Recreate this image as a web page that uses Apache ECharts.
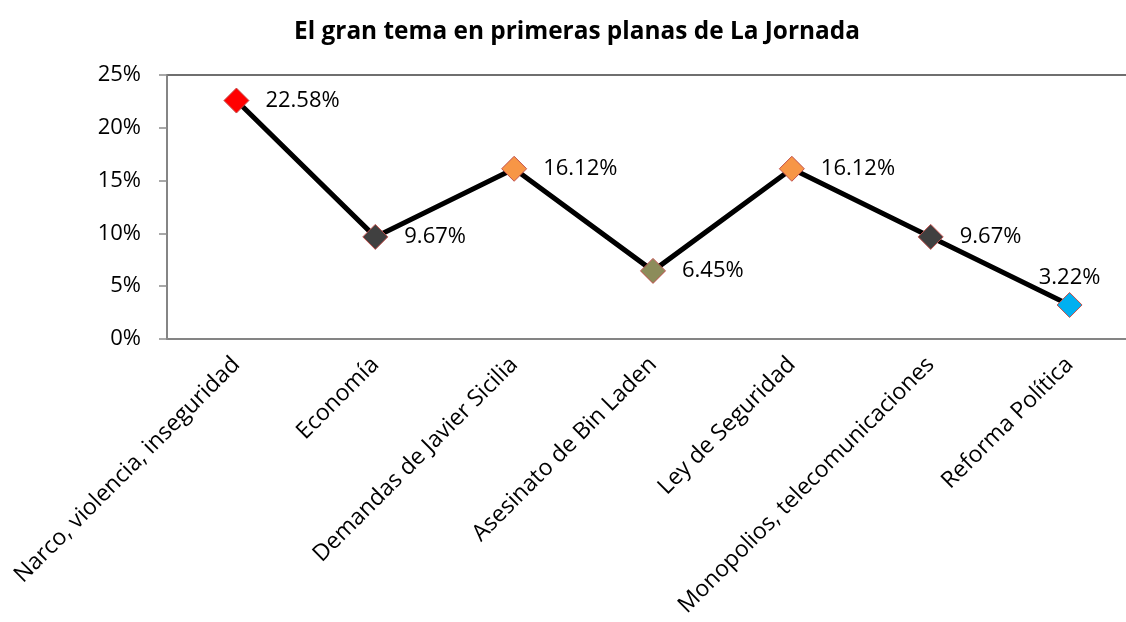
<!DOCTYPE html>
<html><head><meta charset="utf-8">
<script src="https://cdn.jsdelivr.net/npm/echarts@6/dist/echarts.min.js"></script>
<style>html,body{margin:0;padding:0;background:#fff}#c{width:1126px;height:622px}</style>
</head><body><div id="c"></div>
<script>
const categories = ["Narco, violencia, inseguridad","Economía","Demandas de Javier Sicilia","Asesinato de Bin Laden","Ley de Seguridad","Monopolios, telecomunicaciones","Reforma Política"];
const values = [22.58, 9.67, 16.12, 6.45, 16.12, 9.67, 3.22];
const markerColors = ["#FF0000","#404040","#F79646","#8C8C5A","#F79646","#404040","#00B0F0"];
const labelPositions = ["right","right","right","right","right","right","top"];
const yTicks = [0,5,10,15,20,25];
const FONT = "Open Sans";

const chart = echarts.init(document.getElementById('c'));
chart.setOption({
  animation:false,
  title:{text:"El gran tema en primeras planas de La Jornada",left:572,top:15,textAlign:'center',
    textStyle:{fontFamily:FONT,fontSize:24.4,fontWeight:'bold',color:'#000'}},
  grid:{left:167,top:75,width:972,bottom:283,show:true,borderColor:'#404040',borderWidth:1.5,
    containLabel:false,outerBoundsMode:'none'},
  xAxis:{type:'category',data:categories,boundaryGap:true,
    axisLine:{lineStyle:{color:'#8c8c8c',width:1.5}},
    axisTick:{alignWithLabel:true,length:6,lineStyle:{color:'#8c8c8c',width:1.5}},
    axisLabel:{rotate:45,interval:0,fontFamily:FONT,fontSize:23,color:'#000',margin:22}},
  yAxis:{type:'value',min:0,max:25,interval:5,
    axisLine:{show:true,lineStyle:{color:'#8c8c8c',width:1.5}},
    axisTick:{show:true,inside:false,length:8,lineStyle:{color:'#8c8c8c',width:1.5}},
    splitLine:{show:false},
    axisLabel:{formatter:v=>yTicks.includes(v)?v+'%':'',fontFamily:FONT,fontSize:22,color:'#000',margin:26}},
  series:[{type:'line',data:values.map((v,i)=>({value:v,itemStyle:{color:markerColors[i]},
      label:{position:labelPositions[i],distance:labelPositions[i]==='top'?3:16}})),
    symbol:'diamond',symbolSize:25,
    lineStyle:{color:'#000',width:5},
    itemStyle:{borderColor:'#C0504D',borderWidth:1},
    label:{show:true,formatter:p=>p.value.toFixed(2)+'%',
      fontFamily:FONT,fontSize:22,color:'#000'}}]
});
</script></body></html>
